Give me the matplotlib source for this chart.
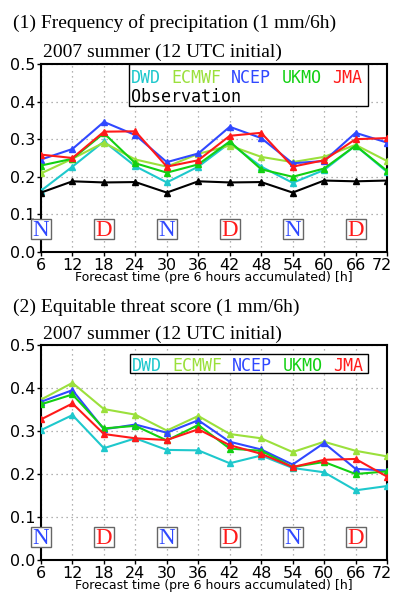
"""
Two-panel line chart: frequency of precipitation and equitable threat score,
2007 summer, 12 UTC initial, for five NWP centres.
"""

import matplotlib.pyplot as plt
from matplotlib.transforms import ScaledTranslation

# Data
hours = [6, 12, 18, 24, 30, 36, 42, 48, 54, 60, 66, 72]
models = ["DWD", "ECMWF", "NCEP", "UKMO", "JMA"]

dwd_freq = [0.163, 0.227, 0.294, 0.228, 0.185, 0.227, 0.290, 0.227, 0.184, 0.218, 0.283, 0.213]
ecmwf_freq = [0.209, 0.248, 0.291, 0.246, 0.227, 0.261, 0.283, 0.253, 0.239, 0.253, 0.285, 0.242]
ncep_freq = [0.246, 0.274, 0.346, 0.311, 0.239, 0.262, 0.333, 0.303, 0.236, 0.242, 0.317, 0.291]
ukmo_freq = [0.230, 0.248, 0.316, 0.236, 0.211, 0.233, 0.294, 0.220, 0.200, 0.222, 0.283, 0.216]
jma_freq = [0.259, 0.250, 0.320, 0.321, 0.227, 0.244, 0.309, 0.317, 0.227, 0.244, 0.300, 0.303]
obs_freq = [0.158, 0.188, 0.185, 0.186, 0.158, 0.188, 0.185, 0.186, 0.158, 0.190, 0.188, 0.190]

dwd_ets = [0.302, 0.337, 0.260, 0.283, 0.256, 0.255, 0.225, 0.243, 0.214, 0.204, 0.162, 0.172]
ecmwf_ets = [0.373, 0.412, 0.351, 0.338, 0.301, 0.335, 0.293, 0.283, 0.251, 0.275, 0.254, 0.241]
ncep_ets = [0.368, 0.395, 0.304, 0.315, 0.296, 0.325, 0.275, 0.257, 0.222, 0.272, 0.212, 0.208]
ukmo_ets = [0.362, 0.385, 0.306, 0.312, 0.278, 0.314, 0.259, 0.254, 0.216, 0.228, 0.200, 0.206]
jma_ets = [0.327, 0.364, 0.293, 0.283, 0.279, 0.304, 0.267, 0.247, 0.216, 0.233, 0.235, 0.194]

# night / day marks
nd_hours = [6, 18, 30, 42, 54, 66]
nd_labels = ["N", "D", "N", "D", "N", "D"]

colors = {"DWD": "#1ec8cc", "ECMWF": "#9be03c", "NCEP": "#3048ff",
          "UKMO": "#12d012", "JMA": "#ff1a1a"}
nd_colors = {"N": "#3048ff", "D": "#ff1a1a"}

fig = plt.figure(figsize=(3.95, 5.97), dpi=100)
ax1 = fig.add_axes([41 / 395, 1 - 252 / 597, 346 / 395, 188 / 597])
ax2 = fig.add_axes([41 / 395, 1 - 560 / 597, 346 / 395, 215 / 597])

tick_font = dict(family="DejaVu Sans", size=11.5)
mono = "DejaVu Sans Mono"
char_w = 0.602 * 12  # points per character of the mono legend font


def style_axes(ax):
    ax.set_xlim(6, 72)
    ax.set_ylim(0, 0.5)
    ax.set_xticks(hours)
    ax.set_yticks([0.0, 0.1, 0.2, 0.3, 0.4, 0.5])
    ax.set_yticklabels(["0.0", "0.1", "0.2", "0.3", "0.4", "0.5"], fontdict=tick_font)
    ax.set_xticklabels([str(h) for h in hours], fontdict=tick_font)
    ax.tick_params(direction="out", length=3, width=1, pad=1)
    # keep the last label inside the figure edge
    last = ax.get_xticklabels()[-1]
    last.set_transform(last.get_transform()
                       + ScaledTranslation(-5 / 100, 0, fig.dpi_scale_trans))
    ax.grid(True, color="#999999", linestyle=(0, (1, 3)), linewidth=0.9)
    for s in ax.spines.values():
        s.set_linewidth(1.5)
        s.set_color("black")
    ax.set_xlabel("Forecast time (pre 6 hours accumulated) [h]",
                  fontsize=9, family="DejaVu Sans", labelpad=-1)
    # N / D boxes, fixed height above the x axis
    shift = ax.transData + ScaledTranslation(0, 23.5 / 100, fig.dpi_scale_trans)
    for h, lab in zip(nd_hours, nd_labels):
        ax.plot([h], [0], marker="s", markersize=14.5, mfc="white", mec="#666666",
                mew=1, transform=shift, clip_on=False, zorder=5)
        ax.annotate(lab, (h, 0), xytext=(0, 17 - 5.6), textcoords="offset points",
                    ha="center", va="baseline", color=nd_colors[lab],
                    family="Liberation Serif", fontsize=16.5, zorder=6,
                    annotation_clip=False)


def legend_box(ax, x0, x1, y0, y1, base, obs_base=None):
    ax.add_patch(plt.Rectangle((x0, y0), x1 - x0, y1 - y0, transform=ax.transAxes,
                               fc="white", ec="black", lw=1, zorder=7))
    pos = 0
    for m in models:
        ax.annotate(m, (x0 + 0.006, base), xycoords="axes fraction",
                    xytext=(pos * char_w, 0), textcoords="offset points",
                    family=mono, fontsize=12, color=colors[m], va="baseline", zorder=8)
        pos += len(m) + 1
    if obs_base is not None:
        ax.text(x0 + 0.006, obs_base, "Observation", transform=ax.transAxes,
                family=mono, fontsize=12, color="black", va="baseline", zorder=8)


# (1) frequency
freq = [dwd_freq, ecmwf_freq, ncep_freq, ukmo_freq, jma_freq]
for m, vals in zip(models, freq):
    ax1.plot(hours, vals, color=colors[m], lw=1.5, marker="^", ms=4, zorder=3)
ax1.plot(hours, obs_freq, color="black", lw=1.5, marker="^", ms=4, zorder=3)
style_axes(ax1)
legend_box(ax1, 0.254, 0.945, 0.777, 1.0, 0.897, 0.80)

# (2) ETS
ets = [dwd_ets, ecmwf_ets, ncep_ets, ukmo_ets, jma_ets]
for m, vals in zip(models, ets):
    ax2.plot(hours, vals, color=colors[m], lw=1.5, marker="^", ms=4, zorder=3)
style_axes(ax2)
legend_box(ax2, 0.257, 0.944, 0.868, 0.958, 0.878)

# titles
serif = "Liberation Serif"
fig.text(12.7 / 395, 1 - 28 / 597, "(1) Frequency of precipitation (1 mm/6h)",
         family=serif, fontsize=14, va="baseline")
fig.text(43 / 395, 1 - 57 / 597, "2007 summer (12 UTC initial)",
         family=serif, fontsize=14, va="baseline")
fig.text(12.7 / 395, 1 - 311.5 / 597, "(2) Equitable threat score (1 mm/6h)",
         family=serif, fontsize=14, va="baseline")
fig.text(43 / 395, 1 - 338.5 / 597, "2007 summer (12 UTC initial)",
         family=serif, fontsize=14, va="baseline")

fig.savefig("out.png", dpi=100)
